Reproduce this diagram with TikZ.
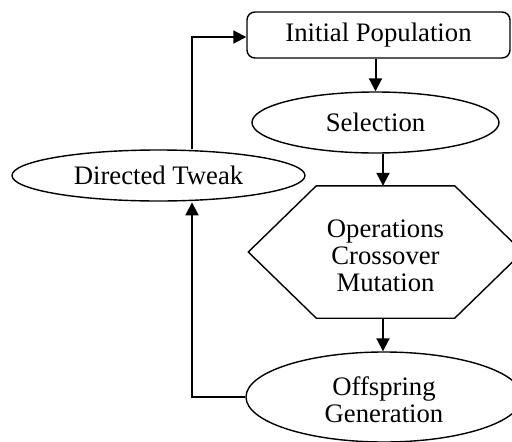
\documentclass[tikz,border=0pt]{standalone}
\usepackage{fontspec}
\setmainfont{Liberation Serif}
\usetikzlibrary{arrows.meta,shapes.geometric}
\begin{document}
\begin{tikzpicture}[x=1pt,y=-1pt,
  every node/.style={font=\fontsize{26.7}{27}\selectfont, align=center, inner sep=0pt, line width=1.4pt},
  shp/.style={draw, line width=1.4pt},
  oval/.style={shp, ellipse},
  arr/.style={line width=2pt, -{Triangle[length=13pt,width=13pt]}},
  ln/.style={line width=2pt}]
\useasboundingbox (0,0) rectangle (512,442);
\node[shp, rounded corners=8pt, minimum width=263pt, minimum height=46pt] (init) at (378.5,35) {Initial Population};
\node[oval, minimum width=247pt, minimum height=61pt] (sel) at (375.5,122.5) {Selection};
\node[minimum width=273pt, minimum height=131pt] (ops) at (385.5,252) {};
\node (opst) at (385.5,256) {Operations\\Crossover\\Mutation};
\draw[shp] ([xshift=68pt]ops.north west) -- ([xshift=-68pt]ops.north east) -- (ops.east)
  -- ([xshift=-68pt]ops.south east) -- ([xshift=68pt]ops.south west) -- (ops.west) -- cycle;
\node[oval, minimum width=276pt, minimum height=90pt] (off) at (384,397) {};
\node (offt) at (384,400) {Offspring\\Generation};
\node[oval, minimum width=293pt, minimum height=51pt] (dt) at (158.5,175.5) {Directed Tweak};
\draw[arr] (sel.north |- init.south) -- (sel.north);
\draw[arr] ([xshift=-2.5pt]ops.north |- sel.south) -- ([xshift=-2.5pt]ops.north);
\draw[arr] ([xshift=-2.5pt]ops.south) -- ([xshift=-2.5pt]ops.south |- off.north);
\draw[arr] (off.west) -| ([xshift=33.5pt,yshift=-0.7pt]dt.south);
\draw[arr] ([xshift=33.5pt,yshift=0.7pt]dt.north) |- ([yshift=-2pt]init.west);
\end{tikzpicture}
\end{document}
